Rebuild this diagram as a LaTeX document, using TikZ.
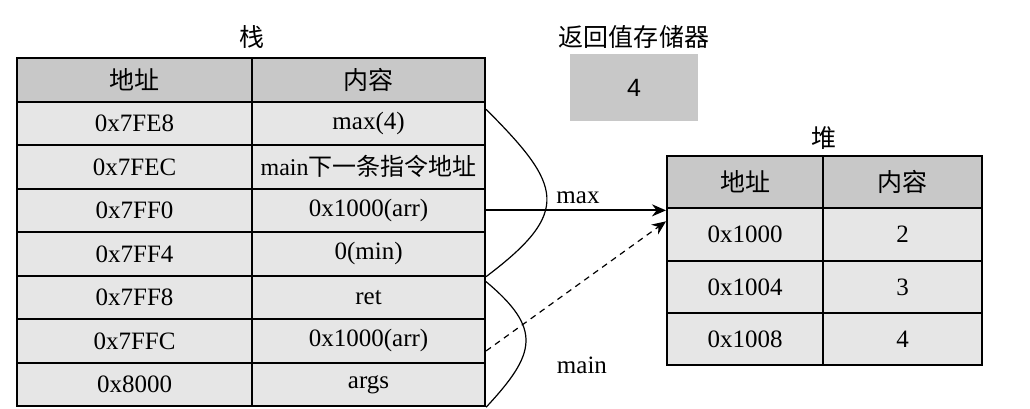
\documentclass[tikz,border=0pt]{standalone}
\usepackage{fontspec}
\setmainfont{Liberation Serif}
\newfontfamily\cjk{Noto Sans CJK SC}
\newfontfamily\regfont{Liberation Sans}
\usetikzlibrary{arrows.meta}
\definecolor{headgray}{RGB}{200,200,200}
\definecolor{cellgray}{RGB}{230,230,230}

\begin{document}
\begin{tikzpicture}[
  cell/.style={draw=black, line width=1pt, fill=cellgray, inner sep=0pt,
               minimum height=0.765cm, font=\fontsize{12.5}{14}\selectfont},
  head/.style={cell, fill=headgray},
  acol/.style={minimum width=4.13cm},
  bcol/.style={minimum width=4.094cm},
  hacol/.style={minimum width=2.741cm, minimum height=0.92cm},
  hbcol/.style={minimum width=2.794cm, minimum height=0.92cm},
  title/.style={inner sep=0pt, font=\fontsize{12.5}{14}\selectfont},
  link/.style={line width=0.6pt},
  arr/.style={-{Stealth[length=7pt, width=6pt]}, line width=1pt}
]
  \useasboundingbox (0,0) rectangle (18.10,-7.187);

  % stack
  \node[title] (stk) at (4.428,-0.650) {\cjk 栈};
  \node[head, acol] (sa0) at (2.365,-1.4015) {\cjk 地址};
  \node[head, bcol] (sv0) at (6.477,-1.4015) {\cjk 内容};
  \node[cell, acol] (sa1) at (2.365,-2.1665) {0x7FE8};
  \node[cell, bcol] (sv1) at (6.477,-2.1665) {max(4)};
  \node[cell, acol] (sa2) at (2.365,-2.9315) {0x7FEC};
  \node[cell, bcol, font=\fontsize{12}{14}\selectfont] (sv2) at (6.477,-2.9315)
    {main{\cjk 下一条指令地址}};
  \node[cell, acol] (sa3) at (2.365,-3.6965) {0x7FF0};
  \node[cell, bcol] (sv3) at (6.477,-3.6965) {0x1000(arr)};
  \node[cell, acol] (sa4) at (2.365,-4.4615) {0x7FF4};
  \node[cell, bcol] (sv4) at (6.477,-4.4615) {0(min)};
  \node[cell, acol] (sa5) at (2.365,-5.2265) {0x7FF8};
  \node[cell, bcol] (sv5) at (6.477,-5.2265) {ret};
  \node[cell, acol] (sa6) at (2.365,-5.9915) {0x7FFC};
  \node[cell, bcol] (sv6) at (6.477,-5.9915) {0x1000(arr)};
  \node[cell, acol] (sa7) at (2.365,-6.7565) {0x8000};
  \node[cell, bcol] (sv7) at (6.477,-6.7565) {args};

  % return value register
  \node[title] (ret) at (11.141,-0.650) {\cjk 返回值存储器};
  \node[fill=headgray, minimum width=2.249cm, minimum height=1.177cm,
        font=\fontsize{12.5}{14}\regfont] (reg) at (11.141,-1.538) {4};

  % heap
  \node[title] (hp) at (14.48,-2.425) {\cjk 堆};
  \node[head, hacol] (ha0) at (13.092,-3.201) {\cjk 地址};
  \node[head, hbcol] (hv0) at (15.860,-3.201) {\cjk 内容};
  \node[cell, hacol] (ha1) at (13.092,-4.121) {0x1000};
  \node[cell, hbcol] (hv1) at (15.860,-4.121) {2};
  \node[cell, hacol] (ha2) at (13.092,-5.041) {0x1004};
  \node[cell, hbcol] (hv2) at (15.860,-5.041) {3};
  \node[cell, hacol] (ha3) at (13.092,-5.961) {0x1008};
  \node[cell, hbcol] (hv3) at (15.860,-5.961) {4};

  % frames
  \draw[link] ([yshift=7pt]sv1.east) to[out=-45, in=37, looseness=1.65] (sv4.south east);
  \draw[link] ([yshift=-3.5pt]sv5.north east) to[out=-40, in=47, looseness=1.5] (sv7.south east);
  \node[title] (lmax) at (10.157,-3.479) {max};
  \node[title] (lmain) at (10.227,-6.414) {main};

  % pointers
  \draw[arr] (sv3.east) -- (sv3.east -| ha1.west);
  \draw[arr, line width=0.6pt, dash pattern=on 3pt off 2.5pt]
    ([yshift=-5pt]sv6.east) -- ([yshift=-7pt]ha1.north west);
\end{tikzpicture}
\end{document}
